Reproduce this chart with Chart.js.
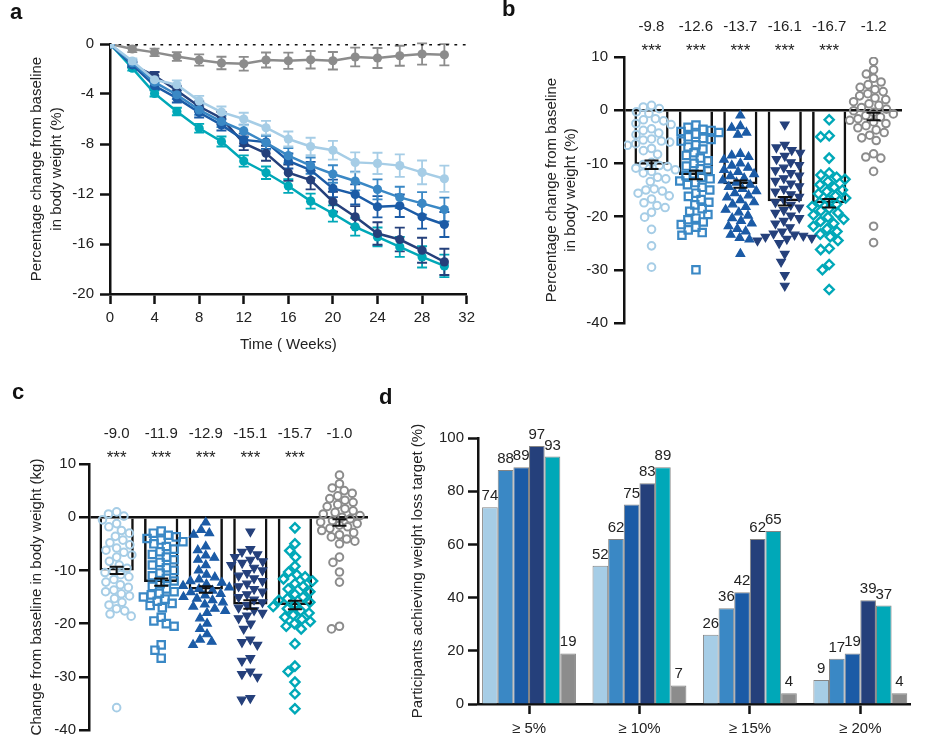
<!DOCTYPE html>
<html><head><meta charset="utf-8">
<script src="https://cdn.jsdelivr.net/npm/chart.js@4.4.1/dist/chart.umd.min.js"></script>
<style>
html,body{margin:0;padding:0;background:#fff;}
#wrap{position:relative;width:937px;height:745px;overflow:hidden;font-family:'Liberation Sans',Arial,Helvetica,sans-serif;}
.p{position:absolute;}
.p canvas{display:block;}
.lt{position:absolute;font-weight:bold;font-size:22px;line-height:22px;color:#111;}
</style></head><body>
<div id="wrap">
  <div class="p" style="left:0;top:0;width:480px;height:360px"><canvas id="ca" width="480" height="360" style="width:480px;height:360px"></canvas></div>
  <div class="p" style="left:480px;top:0;width:457px;height:360px"><canvas id="cb" width="457" height="360" style="width:457px;height:360px"></canvas></div>
  <div class="p" style="left:0;top:380px;width:390px;height:365px"><canvas id="cc" width="390" height="365" style="width:390px;height:365px"></canvas></div>
  <div class="p" style="left:390px;top:380px;width:547px;height:365px"><canvas id="cd" width="547" height="365" style="width:547px;height:365px"></canvas></div>
  <div class="lt" style="left:10px;top:1px">a</div>
  <div class="lt" style="left:502px;top:-2px">b</div>
  <div class="lt" style="left:12px;top:381px">c</div>
  <div class="lt" style="left:379px;top:386px">d</div>
</div>
<script>
// ---------------- DATA ----------------
const COLORS = ['#a6cde6', '#3a88c5', '#1b5ba6', '#25407b', '#00a8b8', '#8c8c8c'];

// Panel a: mean % change by week
const weeks = [0, 2, 4, 6, 8, 10, 12, 14, 16, 18, 20, 22, 24, 26, 28, 30];
const aDose1 = [0, -1.36, -2.86, -3.26, -4.55, -5.45, -6.0, -6.7, -7.6, -8.2, -8.5, -9.47, -9.55, -9.73, -10.27, -10.78];
const aDose2 = [0, -1.5, -3.05, -4.06, -5.27, -6.2, -6.95, -7.9, -8.93, -9.73, -10.4, -10.96, -11.63, -12.27, -12.75, -13.24];
const aDose3 = [0, -1.66, -3.34, -4.33, -5.48, -6.47, -7.67, -7.85, -9.36, -10.08, -11.55, -12.03, -13.02, -12.94, -13.82, -14.44];
const aDose4 = [0, -1.66, -2.54, -3.72, -5.0, -5.94, -7.94, -8.74, -10.3, -10.88, -12.62, -13.82, -15.16, -15.64, -16.5, -17.43];
const aDose5 = [0, -1.93, -3.95, -5.4, -6.74, -7.8, -9.36, -10.3, -11.36, -12.57, -13.56, -14.63, -15.43, -16.23, -17.03, -17.75];
const aPlacebo = [0, -0.4, -0.67, -1.0, -1.28, -1.52, -1.58, -1.28, -1.34, -1.26, -1.34, -1.04, -1.12, -0.94, -0.8, -0.86];
const aErr1 = [0, 0.2, 0.3, 0.35, 0.4, 0.45, 0.5, 0.55, 0.6, 0.7, 0.75, 0.8, 0.85, 0.9, 0.95, 1.05];
const aErr2 = [0, 0.2, 0.3, 0.35, 0.4, 0.45, 0.5, 0.55, 0.6, 0.65, 0.7, 0.75, 0.8, 0.85, 0.9, 0.95];
const aErr3 = [0, 0.2, 0.3, 0.35, 0.4, 0.45, 0.5, 0.55, 0.6, 0.65, 0.7, 0.8, 0.85, 0.9, 0.95, 1.0];
const aErr4 = [0, 0.2, 0.3, 0.35, 0.4, 0.5, 0.55, 0.6, 0.65, 0.75, 0.8, 0.85, 0.9, 0.95, 1.0, 1.05];
const aErr5 = [0, 0.2, 0.25, 0.3, 0.35, 0.4, 0.45, 0.5, 0.55, 0.6, 0.65, 0.7, 0.75, 0.8, 0.85, 0.9];
const aErrP = [0, 0.25, 0.3, 0.35, 0.45, 0.5, 0.55, 0.6, 0.65, 0.7, 0.7, 0.75, 0.8, 0.8, 0.85, 0.85];
const aXTicks = [0, 4, 8, 12, 16, 20, 24, 28, 32];
const aYTicks = [0, -4, -8, -12, -16, -20];

// Panel b: individual % change per group
const b1 = [0.9, 0.6, 0.3, -0.3, -0.6, -1.6, -1.8, -2.0, -2.5, -2.7, -3.5, -3.8, -4.3, -4.6, -5.4, -5.6, -5.8, -6.0, -6.3, -6.6, -7.2, -7.6, -8.3, -9.8, -10.2, -10.4, -10.6, -10.9, -11.2, -11.5, -11.8, -12.6, -12.9, -13.4, -14.8, -15.0, -15.2, -15.6, -16.1, -16.7, -17.4, -17.9, -18.3, -19.2, -20.1, -22.4, -25.5, -29.5];
const b2 = [-2.8, -3.2, -3.6, -3.8, -4.0, -4.2, -4.5, -5.0, -5.3, -5.5, -5.8, -6.5, -6.9, -7.3, -8.0, -8.5, -9.0, -9.5, -10.0, -10.5, -11.0, -11.4, -12.0, -12.3, -12.6, -12.9, -13.3, -13.6, -14.0, -14.5, -15.0, -15.6, -16.2, -16.8, -17.3, -17.8, -18.5, -19.0, -19.6, -20.3, -20.6, -21.0, -21.5, -22.0, -22.5, -23.0, -23.5, -30.0];
const b3 = [-1.0, -3.0, -3.3, -4.2, -4.6, -8.2, -8.5, -8.8, -9.3, -10.0, -10.4, -10.8, -11.2, -11.6, -12.0, -12.4, -12.8, -13.2, -13.6, -14.0, -14.4, -14.8, -15.2, -15.6, -16.0, -16.4, -16.9, -17.3, -17.7, -18.2, -18.7, -19.2, -19.8, -20.3, -20.8, -21.3, -21.8, -22.3, -22.8, -23.4, -24.0, -24.3, -27.0];
const b4 = [-2.7, -6.5, -7.0, -7.5, -8.0, -8.6, -9.2, -9.8, -10.3, -10.8, -11.3, -11.8, -12.3, -12.8, -13.3, -13.8, -14.3, -14.8, -15.3, -15.8, -16.3, -16.8, -17.3, -17.8, -18.3, -18.8, -19.3, -19.8, -20.3, -20.8, -21.3, -22.0, -22.8, -23.2, -23.4, -23.6, -23.8, -24.0, -24.2, -24.5, -25.0, -27.0, -28.5, -31.0, -33.0];
const b5 = [-1.8, -4.8, -5.0, -9.0, -11.8, -12.2, -12.6, -13.0, -13.4, -14.0, -14.5, -15.0, -15.3, -15.7, -16.1, -16.5, -16.9, -17.3, -17.7, -18.1, -18.5, -18.9, -19.3, -19.7, -20.1, -20.5, -20.9, -21.3, -21.8, -22.3, -22.8, -23.3, -23.8, -24.5, -26.0, -26.2, -29.0, -30.0, -33.7];
const b6 = [9.2, 7.6, 6.8, 6.0, 5.3, 4.8, 4.3, 3.9, 3.5, 3.1, 2.7, 2.3, 2.0, 1.6, 1.2, 0.9, 0.5, 0.2, -0.1, -0.4, -0.7, -1.0, -1.3, -1.6, -1.9, -2.2, -2.5, -2.9, -3.3, -3.7, -4.2, -4.7, -5.2, -5.7, -8.2, -8.8, -9.0, -11.5, -21.8, -24.9];
const bMeans = [-10.25, -12.2, -13.9, -17.1, -17.5, -1.2];
const bSem = [0.8, 0.8, 0.7, 0.8, 0.8, 0.7];
const bLabels = ['-9.8', '-12.6', '-13.7', '-16.1', '-16.7', '-1.2'];
const stars = ['***', '***', '***', '***', '***', ''];
const bYTicks = [10, 0, -10, -20, -30, -40];

// Panel c: individual kg change per group
const c1 = [1.0, 0.6, 0.2, -0.5, -1.2, -1.8, -2.5, -3.0, -3.6, -4.3, -4.8, -5.2, -5.8, -6.2, -6.6, -7.1, -7.5, -8.3, -9.0, -9.6, -10.1, -10.4, -10.8, -11.2, -11.7, -12.2, -12.7, -13.2, -13.7, -14.0, -14.4, -14.8, -15.3, -16.0, -16.5, -17.2, -17.6, -18.2, -18.6, -35.8];
const c2 = [-2.6, -3.0, -3.4, -3.7, -4.0, -4.3, -4.6, -5.0, -5.5, -6.0, -6.5, -7.0, -7.5, -8.0, -8.5, -9.0, -9.5, -10.0, -10.5, -11.0, -11.5, -12.0, -12.5, -13.0, -13.5, -14.0, -14.3, -14.6, -15.0, -15.4, -15.8, -16.2, -16.6, -17.0, -18.8, -19.5, -20.0, -20.5, -24.0, -25.0, -26.5];
const c3 = [-1.0, -2.4, -3.0, -3.3, -5.5, -6.2, -7.2, -7.6, -8.0, -9.0, -10.0, -10.8, -11.3, -11.7, -12.0, -12.3, -12.6, -12.9, -13.2, -13.5, -13.8, -14.1, -14.4, -14.7, -15.0, -15.3, -15.6, -16.0, -16.4, -16.8, -17.2, -17.6, -18.0, -19.0, -20.0, -21.0, -22.0, -23.0, -23.4, -24.0];
const c4 = [-2.7, -6.0, -6.5, -7.0, -7.5, -8.0, -8.3, -8.6, -9.0, -9.5, -10.0, -10.5, -11.0, -11.5, -12.0, -12.5, -13.0, -13.5, -14.0, -14.5, -15.0, -15.5, -16.0, -16.5, -17.0, -17.5, -18.0, -18.5, -19.0, -20.0, -21.0, -23.0, -23.5, -24.0, -26.5, -27.0, -29.0, -29.5, -30.0, -34.0, -34.3];
const c5 = [-2.0, -5.0, -6.3, -7.5, -9.2, -10.3, -10.8, -11.2, -11.6, -12.0, -12.5, -13.0, -13.5, -14.0, -14.5, -15.0, -15.3, -15.6, -16.0, -16.4, -16.8, -17.2, -17.6, -18.0, -18.4, -18.8, -19.2, -19.6, -20.0, -20.5, -21.0, -23.8, -28.0, -29.0, -31.0, -33.2, -36.0];
const c6 = [7.9, 6.3, 5.5, 5.0, 4.5, 4.0, 3.5, 3.2, 2.8, 2.4, 2.0, 1.6, 1.2, 0.9, 0.6, 0.3, 0.0, -0.3, -0.6, -0.9, -1.2, -1.5, -1.8, -2.1, -2.5, -2.9, -3.3, -3.7, -4.1, -4.5, -5.0, -7.5, -8.5, -10.3, -12.2, -20.5, -21.0];
const cMeans = [-10.0, -12.2, -13.6, -16.4, -16.5, -1.0];
const cSem = [0.7, 0.7, 0.6, 0.8, 0.8, 0.6];
const cLabels = ['-9.0', '-11.9', '-12.9', '-15.1', '-15.7', '-1.0'];

// Panel d: % achieving target, per dose group across targets
const targets = ['\u2265 5%', '\u2265 10%', '\u2265 15%', '\u2265 20%'];
const d1 = [74, 52, 26, 9];
const d2 = [88, 62, 36, 17];
const d3 = [89, 75, 42, 19];
const d4 = [97, 83, 62, 39];
const d5 = [93, 89, 65, 37];
const d6 = [19, 7, 4, 4];
const dYTicks = [0, 20, 40, 60, 80, 100];

// ---------------- STYLE ----------------
const TXT = '#222';
const AX = '#111';
Chart.defaults.font.family = "'Liberation Sans', Arial, Helvetica, sans-serif";
Chart.defaults.font.size = 15;
Chart.defaults.color = TXT;

function tickGrid(onArea) {
  return { drawOnChartArea: !!onArea, drawTicks: true, tickLength: 10, tickColor: AX, tickWidth: 2.5, offset: false };
}
const border = { display: true, color: AX, width: 2.5 };

// ---------------- PANEL A ----------------
const seriesA = [
  { vals: aDose1, err: aErr1, color: COLORS[0] },
  { vals: aDose2, err: aErr2, color: COLORS[1] },
  { vals: aDose3, err: aErr3, color: COLORS[2] },
  { vals: aDose4, err: aErr4, color: COLORS[3] },
  { vals: aDose5, err: aErr5, color: COLORS[4] },
  { vals: aPlacebo, err: aErrP, color: COLORS[5] }
];
const errA = {
  id: 'errA',
  beforeDatasetsDraw(chart) {
    const ctx = chart.ctx, y = chart.scales.y;
    for (let di = seriesA.length - 1; di >= 0; di--) {
      const s = seriesA[di];
      const meta = chart.getDatasetMeta(di);
      ctx.save(); ctx.strokeStyle = s.color; ctx.lineWidth = 1.8;
      meta.data.forEach((pt, i) => {
        const e = s.err[i]; if (!e) return;
        const y1 = y.getPixelForValue(s.vals[i] + e), y2 = y.getPixelForValue(s.vals[i] - e);
        ctx.beginPath();
        ctx.moveTo(pt.x, y1); ctx.lineTo(pt.x, y2);
        ctx.moveTo(pt.x - 5, y1); ctx.lineTo(pt.x + 5, y1);
        ctx.moveTo(pt.x - 5, y2); ctx.lineTo(pt.x + 5, y2);
        ctx.stroke();
      });
      ctx.restore();
    }
  }
};
new Chart(document.getElementById('ca'), {
  type: 'line',
  data: {
    datasets: seriesA.map(s => ({
      data: weeks.map((w, i) => ({ x: w, y: s.vals[i] })),
      borderColor: s.color, backgroundColor: s.color,
      pointBackgroundColor: s.color, pointBorderColor: s.color, pointBorderWidth: 0,
      pointRadius: 4.6, borderWidth: 2.5, tension: 0, fill: false
    })).concat([{
      data: [{ x: 0, y: 0 }, { x: 32, y: 0 }],
      borderColor: AX, borderWidth: 2.8, borderDash: [2.8, 5.6], pointRadius: 0, fill: false
    }])
  },
  options: {
    responsive: false, animation: false,
    layout: { padding: { left: 0, right: 9, top: 44, bottom: 0 } },
    plugins: { legend: { display: false }, tooltip: { enabled: false } },
    scales: {
      x: {
        type: 'linear', min: 0, max: 32,
        afterFit: s => { s.height = 66; },
        afterBuildTicks: s => { s.ticks = aXTicks.map(v => ({ value: v })); },
        ticks: { padding: 5, color: TXT, font: { size: 15 } },
        grid: tickGrid(false), border: border,
        title: { display: true, text: 'Time ( Weeks)', color: TXT, font: { size: 15, lineHeight: 1.3 }, padding: { top: 0, bottom: 5 } }
      },
      y: {
        type: 'linear', min: -20, max: 0,
        afterFit: s => { s.width = 110; },
        afterBuildTicks: s => { s.ticks = aYTicks.map(v => ({ value: v })); },
        ticks: { padding: 6, color: TXT, font: { size: 15 } },
        grid: tickGrid(false), border: border,
        title: { display: true, text: ['Percentage change from baseline', 'in body weight (%)'], color: TXT, font: { size: 15, lineHeight: 1.3 }, padding: { top: 27.5, bottom: 0 } }
      }
    }
  },
  plugins: [errA]
});

// ---------------- PANELS B / C ----------------
const STY = [
  { style: 'circle', r: 3.8, bw: 2, fill: false, gap: 8.4 },
  { style: 'rect', r: 5.2, bw: 2.2, fill: false, gap: 8.2 },
  { style: 'triangle', r: 5.0, bw: 1.2, fill: true, gap: 8.8 },
  { style: 'triangle', r: 5.0, bw: 1.2, fill: true, gap: 8.8, rot: 180 },
  { style: 'rectRot', r: 4.6, bw: 2.4, fill: false, gap: 8.6 },
  { style: 'circle', r: 3.8, bw: 2, fill: false, gap: 8.4 }
];

function makeSwarm(id, groups, means, sems, valLabels, yTicks, yTitle, g) {
  const datasets = groups.map((vals, gi) => ({
    type: 'scatter', order: 0,
    data: vals.map(v => ({ x: gi + 1, y: v })),
    pointStyle: STY[gi].style, pointRotation: STY[gi].rot || 0,
    pointRadius: STY[gi].r, pointBorderWidth: STY[gi].bw,
    pointBorderColor: COLORS[gi],
    pointBackgroundColor: STY[gi].fill ? COLORS[gi] : 'rgba(255,255,255,0)'
  }));
  datasets.push({
    type: 'bar', order: 1,
    data: means.map((m, i) => ({ x: i + 1, y: m })),
    backgroundColor: 'rgba(255,255,255,0)',
    borderColor: means.map((m, i) => i === 5 ? 'rgba(0,0,0,0)' : AX),
    borderWidth: 2.5, barPercentage: 0.77, categoryPercentage: 1
  });
  const annot = {
    id: 'annot_' + id,
    afterDatasetsDraw(chart) {
      const { ctx, chartArea, scales: { x, y } } = chart;
      ctx.save();
      ctx.strokeStyle = AX; ctx.lineWidth = 2;
      means.forEach((m, i) => {
        const px = x.getPixelForValue(i + 1);
        const y1 = y.getPixelForValue(m + sems[i]), y2 = y.getPixelForValue(m - sems[i]);
        ctx.beginPath();
        ctx.moveTo(px, y1); ctx.lineTo(px, y2);
        ctx.moveTo(px - 7, y1); ctx.lineTo(px + 7, y1);
        ctx.moveTo(px - 7, y2); ctx.lineTo(px + 7, y2);
        ctx.stroke();
      });
      ctx.fillStyle = TXT; ctx.textAlign = 'center';
      valLabels.forEach((t, i) => {
        const px = x.getPixelForValue(i + 1);
        ctx.font = "15px 'Liberation Sans', Arial, sans-serif";
        ctx.textBaseline = 'middle';
        ctx.fillText(t, px, chartArea.top - 30);
        ctx.textBaseline = 'alphabetic';
        ctx.font = "17px 'Liberation Sans', Arial, sans-serif";
        ctx.fillText(stars[i], px, chartArea.top - 1);
      });
      ctx.restore();
    }
  };
  const chart = new Chart(document.getElementById(id), {
    type: 'bar',
    data: { datasets },
    options: {
      responsive: false, animation: false,
      layout: { padding: g.pad },
      plugins: { legend: { display: false }, tooltip: { enabled: false } },
      scales: {
        x: { type: 'linear', min: 0.38, max: 6.64, offset: false, display: false, grid: { offset: false } },
        y: {
          type: 'linear', min: -40, max: 10,
          afterFit: s => { s.width = g.yw; },
          afterBuildTicks: s => { s.ticks = yTicks.map(v => ({ value: v })); },
          ticks: { padding: g.tp, color: TXT, font: { size: 15 } },
          grid: {
            drawOnChartArea: true, drawTicks: true, tickLength: 10, tickColor: AX, tickWidth: 2.5,
            color: c => (c.tick && c.tick.value === 0) ? AX : 'rgba(0,0,0,0)', lineWidth: 2.5
          },
          border: border,
          title: { display: true, text: yTitle, color: TXT, font: { size: 15, lineHeight: 1.3 }, padding: { top: g.ttp, bottom: 0 } }
        }
      }
    },
    plugins: [annot]
  });
  // beeswarm layout (pixel-space packing around each group centre)
  const xs = chart.scales.x, ys = chart.scales.y;
  const unit = xs.getPixelForValue(2) - xs.getPixelForValue(1);
  groups.forEach((vals, gi) => {
    const d = STY[gi].gap;
    const order = vals.map((v, i) => i).sort((a, b) => vals[b] - vals[a]);
    const placed = [], offs = new Array(vals.length).fill(0);
    order.forEach(i => {
      const py = ys.getPixelForValue(vals[i]);
      const ints = [];
      placed.forEach(p => {
        const dy = Math.abs(p.y - py);
        if (dy < d) { const w = Math.sqrt(d * d - dy * dy); ints.push([p.x - w, p.x + w]); }
      });
      const cands = [0];
      ints.forEach(([a, b]) => cands.push(a, b));
      cands.sort((a, b) => Math.abs(a) - Math.abs(b));
      let best = 0;
      for (const cx of cands) {
        if (ints.every(([a, b]) => cx <= a + 1e-6 || cx >= b - 1e-6)) { best = cx; break; }
      }
      placed.push({ x: best, y: py });
      offs[i] = best;
    });
    chart.data.datasets[gi].data = vals.map((v, i) => ({ x: gi + 1 + offs[i] / unit, y: v }));
  });
  chart.update('none');
  return chart;
}

makeSwarm('cb', [b1, b2, b3, b4, b5, b6], bMeans, bSem, bLabels, bYTicks,
  ['Percentage change from baseline', 'in body weight (%)'],
  { pad: { left: 0, right: 35, top: 57, bottom: 37 }, yw: 144, tp: 6, ttp: 62 });

makeSwarm('cc', [c1, c2, c3, c4, c5, c6], cMeans, cSem, cLabels, bYTicks,
  'Change from baseline in body weight (kg)',
  { pad: { left: 0, right: 22, top: 84, bottom: 15 }, yw: 89, tp: 3, ttp: 27 });

// ---------------- PANEL D ----------------
const dSeries = [d1, d2, d3, d4, d5, d6];
const dLabelsPlugin = {
  id: 'dLabels',
  afterDatasetsDraw(chart) {
    const ctx = chart.ctx;
    ctx.save();
    ctx.fillStyle = TXT; ctx.textAlign = 'center'; ctx.textBaseline = 'alphabetic';
    ctx.font = "15px 'Liberation Sans', Arial, sans-serif";
    dSeries.forEach((s, di) => {
      chart.getDatasetMeta(di).data.forEach((el, j) => {
        ctx.fillText(String(s[j]), el.x, el.y - 7);
      });
    });
    ctx.restore();
  }
};
new Chart(document.getElementById('cd'), {
  type: 'bar',
  data: {
    datasets: dSeries.map((s, i) => ({
      data: s.map((v, j) => ({ x: j + 1, y: v })),
      backgroundColor: COLORS[i], borderColor: 'rgba(120,120,120,0.9)', borderWidth: 1,
      categoryPercentage: 0.85, barPercentage: 1, borderSkipped: 'bottom'
    }))
  },
  options: {
    responsive: false, animation: false,
    layout: { padding: { left: 0, right: 27, top: 58, bottom: 0 } },
    plugins: { legend: { display: false }, tooltip: { enabled: false } },
    scales: {
      x: {
        type: 'linear', min: 0.538, max: 4.45, offset: false,
        afterFit: s => { s.height = 41; },
        afterBuildTicks: s => { s.ticks = targets.map((t, i) => ({ value: i + 1 })); },
        ticks: { padding: 6, color: TXT, font: { size: 15 }, callback: v => targets[Math.round(v) - 1] },
        grid: tickGrid(false), border: border
      },
      y: {
        type: 'linear', min: 0, max: 100,
        afterFit: s => { s.width = 88; },
        afterBuildTicks: s => { s.ticks = dYTicks.map(v => ({ value: v })); },
        ticks: { padding: 4, color: TXT, font: { size: 15 } },
        grid: tickGrid(false), border: border,
        title: { display: true, text: 'Participants achieving weight loss target (%)', color: TXT, font: { size: 15, lineHeight: 1.3 }, padding: { top: 18, bottom: 0 } }
      }
    }
  },
  plugins: [dLabelsPlugin]
});
</script>
</body></html>
